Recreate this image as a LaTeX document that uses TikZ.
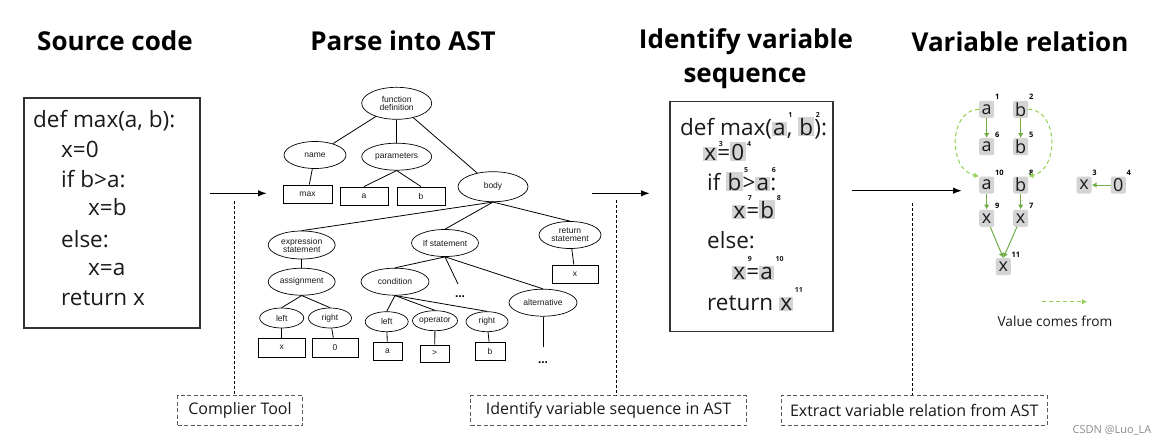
\documentclass[tikz,border=0pt]{standalone}
\usepackage{fontspec}
\setmainfont{Open Sans}
\newfontfamily\treefont{Liberation Sans}
\usetikzlibrary{shapes.geometric,arrows.meta}
\definecolor{hlgray}{HTML}{D4D4D4}
\definecolor{solidg}{HTML}{70AD47}
\definecolor{dashg}{HTML}{92D050}
\definecolor{boxgray}{HTML}{595959}
\definecolor{txt}{HTML}{1A1A1A}
\newcommand\hlt[1]{{\setlength{\fboxsep}{1.2pt}\colorbox{hlgray}{#1}}}
\newcommand\sn[2][17.5pt]{\rlap{\kern1.5pt\raisebox{#1}{\fontsize{7}{8}\selectfont\bfseries #2}}}
\begin{document}
\begin{tikzpicture}[x=1pt,y=-1pt,
  title/.style={font=\fontsize{26}{30}\selectfont\bfseries, anchor=base, inner sep=0, text=black},
  code/.style={font=\fontsize{22.5}{26}\selectfont, anchor=base west, inner sep=0, text=txt},
  srcbox/.style={draw=black!80, line width=1.2pt, inner sep=0},
  ell/.style={ellipse, draw, line width=0.7pt, inner sep=0pt, font=\treefont\fontsize{8.5}{9}\selectfont, align=center, fill=white, text=txt},
  leaf/.style={rectangle, draw, line width=0.9pt, inner sep=0, font=\treefont\fontsize{8.5}{9}\selectfont, text=txt},
  tedge/.style={line width=0.8pt},
  flow/.style={line width=1.5pt, -{Latex[length=9pt,width=6.5pt]}},
  guide/.style={line width=0.6pt, dash pattern=on 3pt off 2pt},
  tool/.style={draw=boxgray, line width=1pt, dash pattern=on 4pt off 2.5pt, minimum height=30pt, inner sep=0, font=\fontsize{16}{18}\selectfont, text=txt},
  vn/.style={fill=hlgray, rounded corners=2pt, minimum width=15pt, minimum height=17pt, inner sep=0, font=\fontsize{18}{18}\selectfont, text=txt},
  num/.style={font=\fontsize{7.5}{8}\selectfont\bfseries, inner sep=0.5pt},
  sol/.style={draw=solidg, line width=1pt, -{Latex[length=5pt,width=5.5pt]}},
  dsh/.style={draw=dashg, line width=1pt, dash pattern=on 4pt off 3pt, -{Latex[length=5pt,width=5.5pt]}},
  dots/.style={font=\treefont\fontsize{12}{12}\selectfont\bfseries, inner sep=0}
]
\fill[white] (0,0) rectangle (1168,445);
\useasboundingbox (0,0) rectangle (1168,445);

% titles
\node[title] (t1) at (115,50) {Source code};
\node[title] (t2) at (403,50) {Parse into AST};
\node[title] (t3a) at (746,48) {Identify variable};
\node[title] (t3b) at (745,82.5) {sequence};
\node[title] (t4) at (1020,51) {Variable relation};

% source code box
\node[srcbox, minimum width=176pt, minimum height=230pt] (src) at (112,213) {};
\node[code] (s1) at (33,127) {def max(a, b):};
\node[code] (s2) at (61,157) {x=0};
\node[code] (s3) at (61,187) {if b>a:};
\node[code] (s4) at (88,215) {x=b};
\node[code] (s5) at (61,247) {else:};
\node[code] (s6) at (88,275) {x=a};
\node[code] (s7) at (61,305) {return x};

% flow arrows
\coordinate (f1a) at (210,193.3); \coordinate (f1b) at (267,193.3);
\coordinate (f2a) at (592,193.3); \coordinate (f2b) at (650,193.3);
\coordinate (f3a) at (852,190.7); \coordinate (f3b) at (962,190.7);
\draw[flow] (f1a) -- (f1b);
\draw[flow] (f2a) -- (f2b);
\draw[flow] (f3a) -- (f3b);

% tool boxes
\node[tool, minimum width=125pt] (ct) at (240,410.7) {Complier Tool};
\node[tool, minimum width=276pt] (iv) at (608.6,410.7) {Identify variable sequence in AST};
\node[tool, minimum width=266pt] (ev) at (914.2,410.7) {Extract variable relation from AST};
\coordinate (g1) at (234,201); \coordinate (g2) at (616,200); \coordinate (g3) at (912,203);
\draw[guide] (g1) -- (g1 |- ct.north);
\draw[guide] (g2) -- (g2 |- iv.north);
\draw[guide] (g3) -- (g3 |- ev.north);

% AST tree
\node[ell, minimum width=70pt, minimum height=32pt] (fd) at (396.7,103.3) {function\\[-1pt]definition};
\node[ell, minimum width=62pt, minimum height=27pt] (name) at (315,155) {name};
\node[ell, minimum width=70pt, minimum height=27pt] (params) at (396.7,156.7) {parameters};
\node[ell, minimum width=70pt, minimum height=30pt] (body) at (493,186.7) {body};
\node[leaf, minimum width=49pt, minimum height=18pt] (maxbox) at (307.5,194) {max};
\node[leaf, minimum width=48pt, minimum height=18pt] (pa) at (364,196) {a};
\node[leaf, minimum width=48pt, minimum height=18pt] (pb) at (421,196) {b};
\node[ell, minimum width=67pt, minimum height=28pt] (expr) at (301.7,245) {expression\\[-1pt]statement};
\node[ell, minimum width=67pt, minimum height=27pt] (ifs) at (445,243) {If statement};
\node[ell, minimum width=62pt, minimum height=27pt] (ret) at (570,235) {return\\[-1pt]statement};
\node[leaf, minimum width=46pt, minimum height=18pt] (retx) at (575,274) {x};
\node[ell, minimum width=67pt, minimum height=27pt] (assign) at (301.7,281.7) {assignment};
\node[ell, minimum width=68pt, minimum height=27pt] (cond) at (395,281.7) {condition};
\coordinate (d1end) at (458,284);
\node[dots] (dots1) at (460,296.7) {...};
\node[ell, minimum width=68pt, minimum height=27pt] (alt) at (543,302.7) {alternative};
\coordinate (altend) at (543,346.7);
\node[dots] (dots2) at (543,362.7) {...};
\node[ell, minimum width=44pt, minimum height=20pt] (lft1) at (281.7,318) {left};
\node[ell, minimum width=43pt, minimum height=20pt] (rgt1) at (330,318) {right};
\node[leaf, minimum width=47pt, minimum height=19pt] (xbox) at (281.7,347.5) {x};
\node[leaf, minimum width=46pt, minimum height=19pt] (zbox) at (335,347.5) {0};
\node[ell, minimum width=43pt, minimum height=20pt] (lft2) at (386.7,321.7) {left};
\node[ell, minimum width=45pt, minimum height=20pt] (op) at (435,320.7) {operator};
\node[ell, minimum width=42pt, minimum height=20pt] (rgt2) at (487,321.7) {right};
\node[leaf, minimum width=29pt, minimum height=18pt] (abox) at (387.5,351) {a};
\node[leaf, minimum width=29pt, minimum height=17pt] (gtbox) at (434.7,353.5) {>};
\node[leaf, minimum width=30pt, minimum height=18pt] (bbox) at (490,351) {b};

\draw[tedge] (fd) -- (name);
\draw[tedge] (fd) -- (params);
\draw[tedge] (fd) -- (body);
\draw[tedge] (name) -- (maxbox);
\draw[tedge] (params.south) -- (pa.north);
\draw[tedge] (params.south) -- (pb.north);
\draw[tedge] (body.south) -- (expr.north);
\draw[tedge] (body.south) -- (ifs.north);
\draw[tedge] (body.south) -- (ret.north);
\draw[tedge] (ret) -- (retx);
\draw[tedge] (expr) -- (assign);
\draw[tedge] (assign.south) -- (lft1.north);
\draw[tedge] (assign.south) -- (rgt1.north);
\draw[tedge] (lft1) -- (xbox);
\draw[tedge] (rgt1) -- (zbox);
\draw[tedge] (ifs.south) -- (cond.north);
\draw[tedge] (ifs.south) -- (d1end);
\draw[tedge] (ifs.south) -- (alt.north);
\draw[tedge] (alt) -- (altend);
\draw[tedge] (cond.south) -- (lft2.north);
\draw[tedge] (cond.south) -- (op.north);
\draw[tedge] (cond.south) -- (rgt2.north);
\draw[tedge] (lft2) -- (abox);
\draw[tedge] (op) -- (gtbox);
\draw[tedge] (rgt2) -- (bbox);

% sequence box
\node[srcbox, minimum width=163pt, minimum height=230pt] (seq) at (751.5,216.7) {};
\node[code] (q1) at (680,135) {def max(\hlt{a}\sn{1}, \hlt{b}\sn{2}):};
\node[code] (q2) at (703,160) {\hlt{x}\sn[14pt]{3}=\hlt{0}\sn[14pt]{4}};
\node[code] (q3) at (707,190) {if \hlt{b}\sn{5}>\hlt{a}\sn{6}:};
\node[code] (q4) at (732,218) {\hlt{x}\sn{7}=\hlt{b}\sn{8}};
\node[code] (q5) at (707,248) {else:};
\node[code] (q6) at (732,279) {\hlt{x}\sn{9}=\hlt{a}\sn{10}};
\node[code] (q7) at (707,310) {return \hlt{x}\sn{11}};

% variable relation graph
\node[vn, label={[num]north east:1}] (a1) at (986.7,109.3) {a};
\node[vn, label={[num]north east:2}] (b2) at (1020.7,109.3) {b};
\node[vn, label={[num]north east:6}] (a6) at (986.7,146.7) {a};
\node[vn, label={[num]north east:5}] (b5) at (1020.7,146.7) {b};
\node[vn, label={[num]north east:10}] (a10) at (986.7,185) {a};
\node[vn, label={[num]north east:8}] (b8) at (1020.7,185) {b};
\node[vn, label={[num]north east:9}] (x9) at (986.7,218.3) {x};
\node[vn, label={[num]north east:7}] (x7) at (1020.7,218.3) {x};
\node[vn, label={[num]north east:11}] (x11) at (1003.3,266.7) {x};
\node[vn, label={[num]north east:3}] (x3) at (1084,185) {x};
\node[vn, label={[num]north east:4}] (z4) at (1118.3,185) {0};

\draw[sol] (a1) -- (a6);
\draw[sol] (b2) -- (b5);
\draw[sol] (a10) -- (x9);
\draw[sol] (b8) -- (x7);
\draw[sol] (x9) -- (x11.north);
\draw[sol] (x7) -- (x11.north);
\draw[sol] (z4) -- (x3);
\draw[dsh] (a1.west) .. controls (948,110) and (948,170) .. (a10.north west);
\draw[dsh] (b2.east) .. controls (1059,110) and (1059,170) .. (b8.north east);

% legend
\coordinate (lg1) at (1042,301.7); \coordinate (lg2) at (1087,301.7);
\draw[dsh] (lg1) -- (lg2);
\node[inner sep=0, font=\fontsize{13.7}{15}\selectfont, text=txt] (lgt) at (1055,321.7) {Value comes from};

% watermark
\node[inner sep=0, font=\fontsize{11}{12}\selectfont, text=black!45] (wm) at (1112,430) {CSDN @Luo\_LA};
\end{tikzpicture}
\end{document}
